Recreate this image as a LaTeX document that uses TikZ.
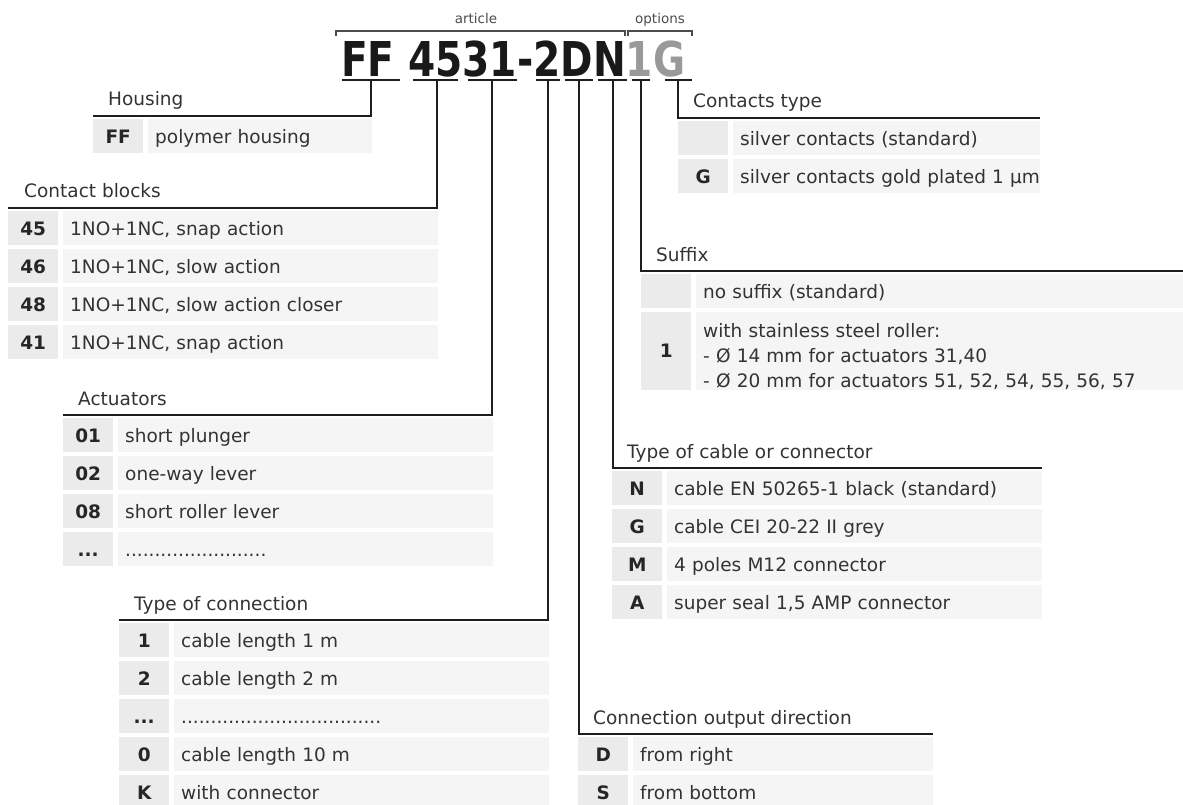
\documentclass[tikz,border=0pt]{standalone}
\usepackage{fontspec}
\setmainfont{DejaVu Sans}
\newfontfamily\codefont{DejaVu Sans}[FakeStretch=0.815]
\definecolor{cellA}{HTML}{EBEBEB}
\definecolor{cellB}{HTML}{F5F5F5}
\definecolor{ink}{HTML}{333333}
\definecolor{leadc}{HTML}{1E1E1E}
\definecolor{optgray}{HTML}{999999}
\newcommand{\etccode}{...}
\newcommand{\etcshort}{........................}
\newcommand{\etclong}{..................................}

\begin{document}
\begin{tikzpicture}[
    x=1pt,y=-1pt,
    font=\fontsize{18.5}{22}\selectfont,
    lead/.style={draw=leadc,line width=2.6pt},
    bracket/.style={draw=black!70,line width=1.2pt},
    title/.style={anchor=base west,inner sep=0pt,text=ink},
    small/.style={anchor=base,inner sep=0pt,text=black!70,font=\fontsize{13.5}{16}\selectfont},
    cell/.style={anchor=north west,minimum height=34pt,inner ysep=8pt,text height=16.5pt,text depth=1.5pt},
    codecell/.style={cell,fill=cellA,minimum width=50pt,inner xsep=0pt,font=\fontsize{18.5}{22}\selectfont\bfseries,text=black!85},
    desccell/.style={cell,fill=cellB,text width=#1,inner xsep=7pt,align=left,text=ink}
  ]
  \useasboundingbox (0,0) rectangle (1183,805);

  % order code
  \node[anchor=base west,inner sep=0pt,font=\codefont\fontsize{48}{50}\selectfont\bfseries,text=black!90] (code) at (341,77) {FF 4531-2DN\textcolor{optgray}{1G}};
  \draw[bracket] (336,36) -- (336,31) -- (625,31) -- (625,36);
  \draw[bracket] (628,36) -- (628,31) -- (692,31) -- (692,36);
  \node[small] (artL) at (476,24) {article};
  \node[small] (optL) at (660,24) {options};
  \foreach \n/\a/\b/\m in {FF/342/400/371,45/413/458/437,31/468/517/492,2/536/560/548,D/565/593/579,N/598/627/613,1/632/650/641,G/665/692/678} {
      \coordinate (u\n) at (\m,80);
      \draw[lead] (\a,80) -- (\b,80);
    }

  % housing
  \node[title] (hsT) at (108,106) {Housing};
  \coordinate (hsL) at (93,116);
  \draw[lead] (uFF) |- (hsL);
  \node[codecell] (hsc) at (93,119) {FF};
  \node[desccell=210pt] (hsd) at (148,119) {polymer housing};

  % contact blocks
  \node[title] (cbT) at (24,198) {Contact blocks};
  \coordinate (cbL) at (8,208);
  \draw[lead] (u45) |- (cbL);
  \foreach \c/\d [count=\i from 0] in {45/{1NO+1NC, snap action},46/{1NO+1NC, slow action},48/{1NO+1NC, slow action closer},41/{1NO+1NC, snap action}} {
      \node[codecell] (cbc\i) at (8,{211+38*\i}) {\c};
      \node[desccell=361pt] (cbd\i) at (63,{211+38*\i}) {\d};
    }

  % actuators
  \node[title] (acT) at (78,405) {Actuators};
  \coordinate (acL) at (63,415);
  \draw[lead] (u31) |- (acL);
  \foreach \c/\d [count=\i from 0] in {01/short plunger,02/one-way lever,08/short roller lever,\etccode/\etcshort} {
      \node[codecell] (acc\i) at (63,{418+38*\i}) {\c};
      \node[desccell=361pt] (acd\i) at (118,{418+38*\i}) {\d};
    }

  % type of connection
  \node[title] (cnT) at (134,610) {Type of connection};
  \coordinate (cnL) at (119,620);
  \draw[lead] (u2) |- (cnL);
  \foreach \c/\d [count=\i from 0] in {1/cable length 1 m,2/cable length 2 m,\etccode/\etclong,0/cable length 10 m,K/with connector} {
      \node[codecell] (cnc\i) at (119,{623+38*\i}) {\c};
      \node[desccell=361pt] (cnd\i) at (174,{623+38*\i}) {\d};
    }

  % output direction
  \node[title] (odT) at (593,724) {Connection output direction};
  \coordinate (odR) at (933,734);
  \draw[lead] (uD) |- (odR);
  \foreach \c/\d [count=\i from 0] in {D/from right,S/from bottom} {
      \node[codecell] (odc\i) at (578,{737+38*\i}) {\c};
      \node[desccell=286pt] (odd\i) at (633,{737+38*\i}) {\d};
    }

  % cable or connector
  \node[title] (tcT) at (627,458) {Type of cable or connector};
  \coordinate (tcR) at (1042,468);
  \draw[lead] (uN) |- (tcR);
  \foreach \c/\d [count=\i from 0] in {N/{cable EN 50265-1 black (standard)},G/cable CEI 20-22 II grey,M/4 poles M12 connector,A/{super seal 1,5 AMP connector}} {
      \node[codecell] (tcc\i) at (612,{471+38*\i}) {\c};
      \node[desccell=361pt] (tcd\i) at (667,{471+38*\i}) {\d};
    }

  % suffix
  \node[title] (sfT) at (656,261) {Suffix};
  \coordinate (sfR) at (1183,271);
  \draw[lead] (u1) |- (sfR);
  \node[codecell] (sfc0) at (641,274) {};
  \node[desccell=473pt] (sfd0) at (696,274) {no suffix (standard)};
  \node[codecell,minimum height=78pt,text height=,text depth=] (sfc1) at (641,312) {1};
  \node[desccell=473pt,minimum height=78pt,inner ysep=0pt,text height=,text depth=,font=\fontsize{18.5}{25}\selectfont] (sfd1) at (696,312)
    {\rule{0pt}{24pt}with stainless steel roller:\\- Ø 14 mm for actuators 31,40\\- Ø 20 mm for actuators 51, 52, 54, 55, 56, 57};

  % contacts type
  \node[title] (ctT) at (693,108) {Contacts type};
  \coordinate (ctR) at (1040,118);
  \draw[lead] (uG) |- (ctR);
  \node[codecell] (ctc0) at (678,121) {};
  \node[desccell=293pt] (ctd0) at (733,121) {silver contacts (standard)};
  \node[codecell] (ctc1) at (678,159) {G};
  \node[desccell=293pt] (ctd1) at (733,159) {\mbox{silver contacts gold plated 1 µm}};
\end{tikzpicture}
\end{document}
